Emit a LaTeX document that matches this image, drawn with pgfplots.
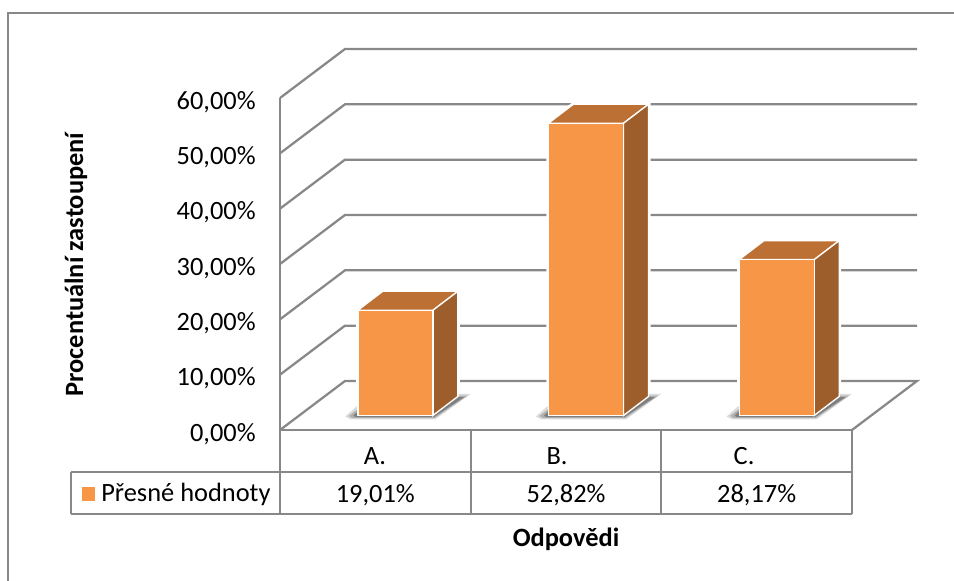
\documentclass[border=0pt]{standalone}
\usepackage{fontspec}
\setmainfont{Carlito}
\usepackage{pgfplots}
\pgfplotsset{compat=1.18}
\definecolor{rule}{HTML}{888888}
\definecolor{front}{HTML}{F79646}
\definecolor{topf}{HTML}{BD7033}
\definecolor{sidef}{HTML}{9E5E2B}
% 1 px of the reference = 0.75pt; depth of the box: 0.341 cat., 8.86 units
\newcommand{\lab}{\fontsize{19.8}{23}\selectfont}
\newcommand{\baseshadow}[1]{%
  \addplot[fill=black, draw=none, opacity=0.14, xshift=#1, yshift=10.9pt, forget plot] coordinates {(0.342,-0.2) (0.370,-0.70) (0.815,-0.70) (1.000,3.9) (0.65,3.9) (0.40,1.6)} -- cycle;
  \addplot[fill=black, draw=none, opacity=0.20, xshift=#1, yshift=10.9pt, forget plot] coordinates {(0.360,-0.1) (0.380,-0.50) (0.810,-0.50) (0.985,3.6) (0.65,3.6) (0.41,1.2)} -- cycle;
  \addplot[fill=black, draw=none, opacity=0.28, xshift=#1, yshift=10.9pt, forget plot] coordinates {(0.385,0.0) (0.395,-0.30) (0.806,-0.30) (0.965,3.3) (0.65,3.3) (0.41,0.8)} -- cycle;
}
\begin{document}
\begin{tikzpicture}
\path[use as bounding box] (-210pt,-113.25pt) rectangle (505.5pt,322.5pt);
% outer frame of the chart, cut by the page at right and bottom
\draw[rule, line width=1.1pt] (-204pt,-113.25pt) -- (-204pt,312.75pt) -- (505.5pt,312.75pt);
\begin{axis}[
  scale only axis, width=429pt, height=249pt,
  xmin=0, xmax=3, ymin=0, ymax=60,
  clip=false,
  axis x line=bottom, axis y line=left,
  axis line style={rule, line width=1.7pt, -},
  major tick length=0pt,
  xtick={0.498,1.453,2.434}, xticklabels={A.,B.,C.},
  ytick={0,10,...,60},
  tick label style={font=\lab, black},
  xticklabel style={anchor=base, yshift=-26pt},
  yticklabel style={anchor=east, xshift=-14.75pt, yshift=-3pt},
  /pgf/number format/.cd, fixed, fixed zerofill, precision=2, use comma, assume math mode=true,
  /pgfplots/.cd,
  yticklabel={\pgfmathprintnumber{\tick}\%},
  xlabel={Odpovědi}, ylabel={Procentuální zastoupení},
  every axis x label/.style={at={(axis cs:1.5,-19.7)}, anchor=center, font=\lab\bfseries},
  every axis y label/.style={at={(axis cs:-1.07,29.9)}, rotate=90, anchor=center, font=\lab\bfseries},
  unbounded coords=jump,
  legend style={at={(axis cs:-1.0385,-11.5)}, anchor=west, draw=none, fill=none, font=\lab, inner sep=0pt, outer sep=0pt,
    nodes={inner sep=0pt}},
  legend cell align=left,
]
% back wall and side wall
\addplot[rule, line width=1.7pt, forget plot] coordinates {
  (0,10) (0.341,18.86) (3.341,18.86) (nan,nan)
  (0,20) (0.341,28.86) (3.341,28.86) (nan,nan)
  (0,30) (0.341,38.86) (3.341,38.86) (nan,nan)
  (0,40) (0.341,48.86) (3.341,48.86) (nan,nan)
  (0,50) (0.341,58.86) (3.341,58.86) (nan,nan)
  (0,60) (0.341,68.86) (3.341,68.86)
};
% floor
\addplot[rule, line width=1.7pt, forget plot] coordinates {(0,0) (0.341,8.86) (3.341,8.86) (3,0)};
% table under the chart
\addplot[rule, line width=1.7pt, forget plot] coordinates {
  (0,0) (0,-15.18) (nan,nan)
  (1,0) (1,-15.18) (nan,nan)
  (2,0) (2,-15.18) (nan,nan)
  (3,0) (3,-15.18) (nan,nan)
  (-1.096,-7.59) (3,-7.59) (nan,nan)
  (-1.096,-15.18) (3,-15.18) (nan,nan)
  (-1.096,-7.59) (-1.096,-15.18)
};
\node[font=\lab] at (axis cs:0.5,-11.7) {19,01\%};
\node[font=\lab] at (axis cs:1.5,-11.7) {52,82\%};
\node[font=\lab] at (axis cs:2.5,-11.7) {28,17\%};

% white halo that interrupts the grid round each box
\addplot[draw=white, fill=white, line width=3pt, yshift=10.9pt, forget plot] coordinates {(0.408,0) (0.408,19.01) (0.539,22.44) (0.933,22.44) (0.933,3.43) (0.802,0)} -- cycle;
\addplot[draw=white, fill=white, line width=3pt, yshift=10.9pt, forget plot] coordinates {(1.408,0) (1.408,52.82) (1.539,56.25) (1.933,56.25) (1.933,3.43) (1.802,0)} -- cycle;
\addplot[draw=white, fill=white, line width=3pt, yshift=10.9pt, forget plot] coordinates {(2.408,0) (2.408,28.17) (2.539,31.60) (2.933,31.60) (2.933,3.43) (2.802,0)} -- cycle;

\baseshadow{0pt}
\baseshadow{143pt}
\baseshadow{286pt}

% top faces
\addplot[fill=topf, draw=white, line width=1pt, yshift=10.9pt, forget plot] coordinates {(0.408,19.01) (0.539,22.44) (0.933,22.44) (0.802,19.01)} -- cycle;
\addplot[fill=topf, draw=white, line width=1pt, yshift=10.9pt, forget plot] coordinates {(1.408,52.82) (1.539,56.25) (1.933,56.25) (1.802,52.82)} -- cycle;
\addplot[fill=topf, draw=white, line width=1pt, yshift=10.9pt, forget plot] coordinates {(2.408,28.17) (2.539,31.60) (2.933,31.60) (2.802,28.17)} -- cycle;
% side faces
\addplot[fill=sidef, draw=white, line width=1pt, yshift=10.9pt, forget plot] coordinates {(0.802,0) (0.933,3.43) (0.933,22.44) (0.802,19.01)} -- cycle;
\addplot[fill=sidef, draw=white, line width=1pt, yshift=10.9pt, forget plot] coordinates {(1.802,0) (1.933,3.43) (1.933,56.25) (1.802,52.82)} -- cycle;
\addplot[fill=sidef, draw=white, line width=1pt, yshift=10.9pt, forget plot] coordinates {(2.802,0) (2.933,3.43) (2.933,31.60) (2.802,28.17)} -- cycle;
% front faces
\addplot[ybar, bar width=56.25pt, bar shift=0pt, fill=front, draw=white, line width=1pt, yshift=10.9pt,
  legend image code/.code={\fill[front] (-18pt,-15.75pt) rectangle (-9pt,-6.75pt); \path (-9pt,-6.75pt) -- (-4.5pt,-6.75pt);}]
  coordinates {(0.605,19.01) (1.605,52.82) (2.605,28.17)};
\addlegendentry{Přesné hodnoty}
\end{axis}
\end{tikzpicture}
\end{document}
